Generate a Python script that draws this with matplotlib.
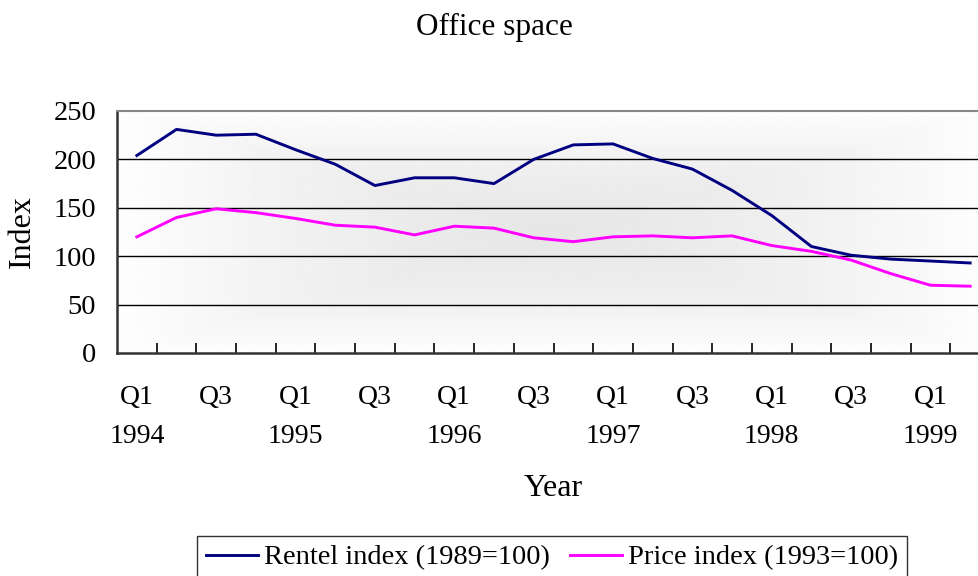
import numpy as np
import matplotlib
matplotlib.use("Agg")
import matplotlib.pyplot as plt
from matplotlib.ticker import FixedLocator, NullFormatter

plt.rcParams['font.family'] = ['Liberation Serif', 'DejaVu Serif']

quarters = ["Q1\n1994", "Q2", "Q3", "Q4",
            "Q1\n1995", "Q2", "Q3", "Q4",
            "Q1\n1996", "Q2", "Q3", "Q4",
            "Q1\n1997", "Q2", "Q3", "Q4",
            "Q1\n1998", "Q2", "Q3", "Q4",
            "Q1\n1999", "Q2"]
rental_index = [204, 231, 225, 226, 210, 195, 173, 181, 181, 175, 200, 215,
                216, 201, 190, 168, 142, 110, 101, 97, 95, 93]
price_index = [120, 140, 149, 145, 139, 132, 130, 122, 131, 129, 119, 115,
               120, 121, 119, 121, 111, 105, 96, 82, 70, 69]
yticks = [0, 50, 100, 150, 200, 250]

W, H = 979, 576
fig = plt.figure(figsize=(W / 100, H / 100), dpi=100)
ax = fig.add_axes([117 / W, 1 - 353 / H, 873 / W, 242 / H])

x = np.arange(len(quarters))

# gradient background (rectangular from center)
gx = np.linspace(-1, 1, 300)
gy = np.linspace(-1, 1, 150)
GX, GY = np.meshgrid(gx, gy)
r = np.maximum(np.abs(GX), np.abs(GY))
r = np.clip(r, 0, 1)
gray = 0.905 + 0.09 * r ** 1.5
ax.imshow(gray, cmap='gray', vmin=0, vmax=1, extent=(0, 1, 0, 1),
          transform=ax.transAxes, aspect='auto', zorder=0, interpolation='bilinear')

for yv in [50, 100, 150, 200]:
    ax.axhline(yv, color='black', lw=1.0, zorder=1)

ax.plot(x, rental_index, color='#000080', lw=2.1, label='Rentel index (1989=100)', zorder=3)
ax.plot(x, price_index, color='#FF00FF', lw=2.1, label='Price index (1993=100)', zorder=3)

ax.set_xlim(-0.5, len(quarters) - 0.5)
ax.set_ylim(0, 250)

ax.set_yticks(yticks)
ax.set_yticklabels([str(v) for v in yticks], fontsize=20.5)
ax.tick_params(axis='y', length=0, pad=15)

major = list(range(0, len(quarters), 2))
ax.xaxis.set_major_locator(FixedLocator(major))
ax.set_xticklabels([quarters[i] for i in major], fontsize=20, linespacing=1.75)
ax.xaxis.set_minor_locator(FixedLocator(np.arange(0.5, len(quarters) - 0.5, 1.0)))
ax.xaxis.set_minor_formatter(NullFormatter())
ax.tick_params(axis='x', which='major', length=0, pad=23)
ax.tick_params(axis='x', which='minor', direction='in', length=7, width=1.2, color='black')

for s in ['left', 'bottom']:
    ax.spines[s].set_color('#333333')
    ax.spines[s].set_linewidth(1.8)
ax.spines['top'].set_color('#888888')
ax.spines['top'].set_linewidth(1.5)
ax.spines['right'].set_visible(False)

ax.set_ylabel('Index', fontsize=23)
ax.yaxis.set_label_coords(-(117 - 22) / 873, 0.5)
ax.yaxis.label.set_verticalalignment('center')
ax.set_xlabel('Year', fontsize=23)
ax.xaxis.set_label_coords(0.5, -(488 - 353) / 242)
ax.xaxis.label.set_verticalalignment('center')

fig.text(494 / W, 1 - 27 / H, 'Office space', fontsize=22.5, ha='center', va='center')

handles, labels = ax.get_legend_handles_labels()
leg = fig.legend(handles, labels, loc='upper left', bbox_to_anchor=(197 / W, 1 - 536 / H),
                 ncol=2, fontsize=20.5, frameon=True, fancybox=False, handlelength=1.85,
                 handletextpad=0.2, columnspacing=0.7, borderpad=0.3, borderaxespad=0)
leg.get_frame().set_edgecolor('black')
leg.get_frame().set_linewidth(1.0)

fig.savefig('out.png', dpi=100)
